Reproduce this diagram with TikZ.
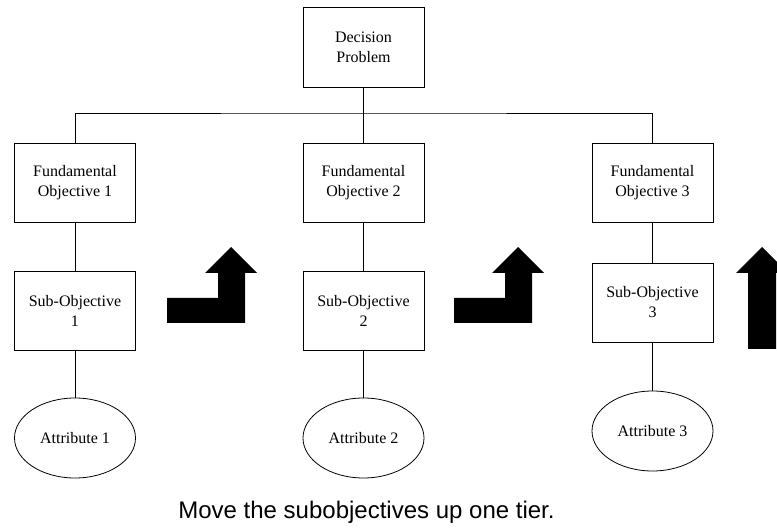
\documentclass[tikz,border=0pt]{standalone}
\usepackage{fontspec}
\setmainfont{Liberation Serif}
\newfontfamily\capfont{Liberation Sans}
\usetikzlibrary{shapes.geometric}
\begin{document}
\begin{tikzpicture}[x=1pt,y=-1pt,
  box/.style={draw=black,line width=0.8pt,minimum width=121pt,minimum height=79pt,
    inner sep=0pt,align=center,font=\fontsize{16}{20}\selectfont},
  attr/.style={draw=black,line width=0.8pt,ellipse,minimum width=121pt,minimum height=80pt,
    inner sep=0pt,align=center,font=\fontsize{16}{20}\selectfont},
  link/.style={draw=black,line width=0.8pt},
  bigarrow/.style={fill=black}]
\useasboundingbox (0,0) rectangle (777,529);

% root
\node[box,minimum height=80pt] (dp) at (363.5,47) {Decision\\Problem};

% fundamental objectives
\node[box] (fo1) at (75,182.5) {Fundamental\\Objective 1};
\node[box] (fo2) at (363.5,182.5) {Fundamental\\Objective 2};
\node[box] (fo3) at (652.5,182.5) {Fundamental\\Objective 3};

% sub-objectives
\node[box] (so1) at (75,310.5) {Sub-Objective\\1};
\node[box] (so2) at (363.5,310.5) {Sub-Objective\\2};
\node[box] (so3) at (652.5,302.5) {Sub-Objective\\3};

% attributes
\node[attr] (at1) at (75,438) {Attribute 1};
\node[attr] (at2) at (363.5,438) {Attribute 2};
\node[attr] (at3) at (652.5,431) {Attribute 3};

% tree connectors
\coordinate (bus) at (363.5,113);
\draw[link] (dp.south) -- (bus);
\draw[link] (fo1.north) |- (bus) -| (fo3.north);
\draw[link] (bus) -- (fo2.north);
\draw[link] (fo1) -- (so1);
\draw[link] (fo2) -- (so2);
\draw[link] (fo3) -- (so3);
\draw[link] (so1) -- (at1);
\draw[link] (so2) -- (at2);
\draw[link] (so3) -- (at3);

% bent block arrows
\fill[bigarrow] (167,323) -- (245,323) -- (245,273) -- (257,273) -- (231,247)
  -- (205,273) -- (218,273) -- (218,298) -- (167,298) -- cycle;
\fill[bigarrow] (454,323) -- (532,323) -- (532,273) -- (544,273) -- (518,247)
  -- (492,273) -- (505,273) -- (505,298) -- (454,298) -- cycle;
% straight block arrow
\fill[bigarrow] (748,349) -- (776,349) -- (776,273) -- (788,273) -- (762,247)
  -- (736,273) -- (748,273) -- cycle;

% caption
\node[font=\capfont\fontsize{24}{27}\selectfont,inner sep=0pt] (cap) at (366.5,512)
  {Move the subobjectives up one tier.};
\end{tikzpicture}
\end{document}
